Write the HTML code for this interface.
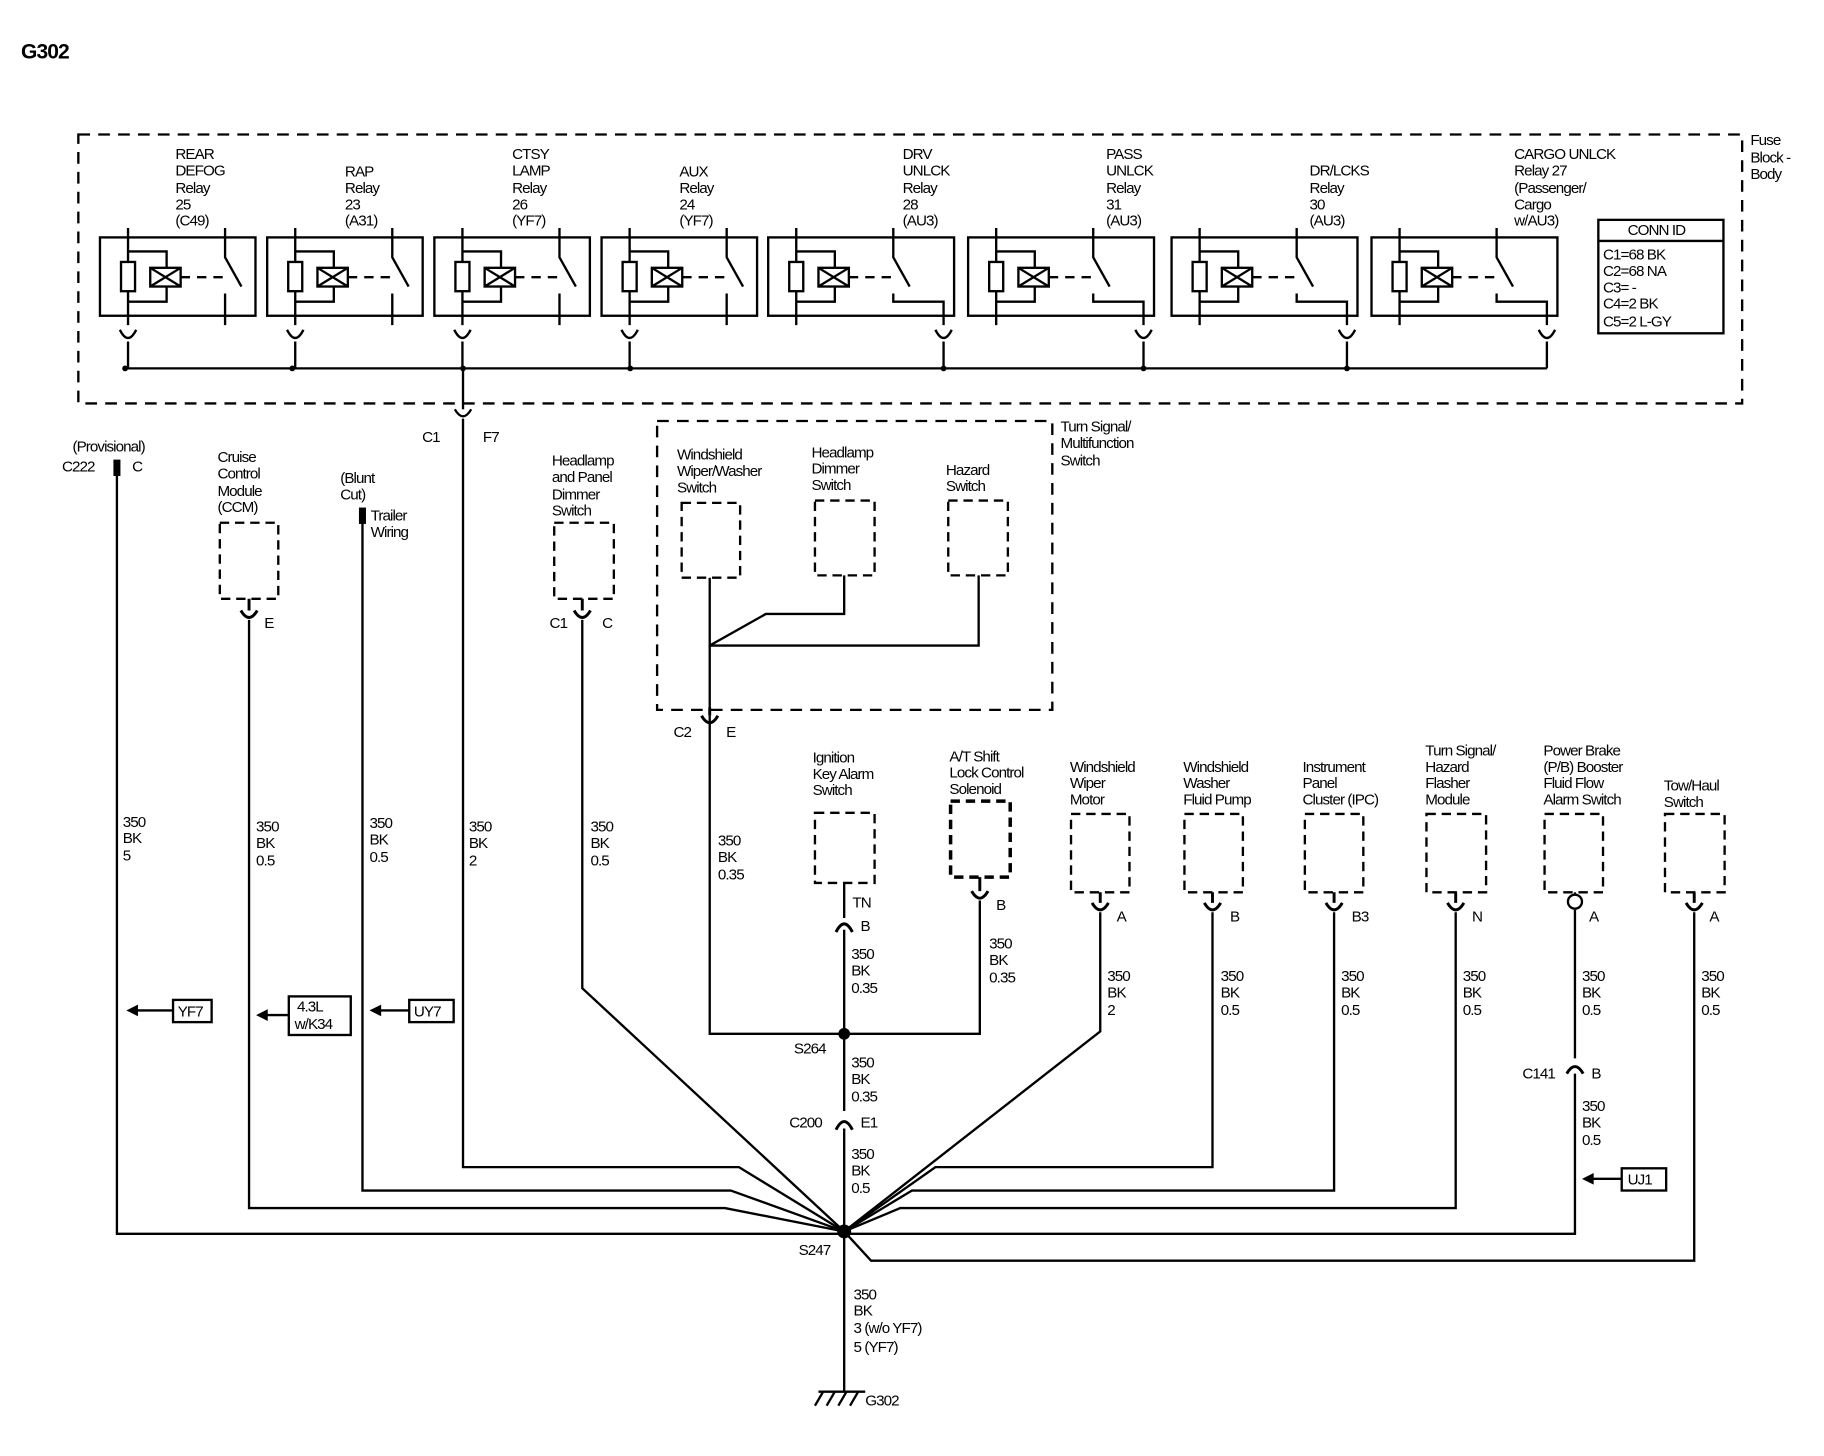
<!DOCTYPE html>
<html><head><meta charset="utf-8"><style>
html,body{margin:0;padding:0;background:#fff}
svg{display:block}
text{font-family:"Liberation Sans",Arial,sans-serif;font-size:13px;fill:#000;letter-spacing:-0.8px}
</style></head><body>
<svg width="1824" height="1456" viewBox="0 0 1560 1245" preserveAspectRatio="none" xmlns="http://www.w3.org/2000/svg">
<defs>
<g id="ra" fill="none" stroke="#000" stroke-width="2">
<rect x="0" y="203" width="133" height="67"/>
<path d="M24 195 V278 M24 215 H57 V258 H24"/>
<rect x="18" y="224" width="12" height="25" fill="#fff"/>
<rect x="43" y="229" width="26" height="16" fill="#fff"/><path d="M43 229 L69 245 M43 245 L69 229"/>
<path d="M69 237 H105" stroke-dasharray="8,6"/>
<path d="M107 195 V220 L121 245 M107 251 V278"/>
<path d="M17 282 Q24 296 31 282 M24 292 V315"/>
</g>
<g id="rb" fill="none" stroke="#000" stroke-width="2">
<rect x="0" y="203" width="159" height="67"/>
<path d="M24 195 V278 M24 215 H57 V258 H24"/>
<rect x="18" y="224" width="12" height="25" fill="#fff"/>
<rect x="43" y="229" width="26" height="16" fill="#fff"/><path d="M43 229 L69 245 M43 245 L69 229"/>
<path d="M69 237 H105" stroke-dasharray="8,6"/>
<path d="M107 195 V220 L121 245 M107 251 V258 H150 V278"/>
<path d="M143 282 Q150 296 157 282 M150 292 V315"/>
</g>
</defs>
<use href="#ra" x="85.5"/><use href="#ra" x="228.5"/><use href="#ra" x="371.5"/><use href="#ra" x="514.5"/>
<use href="#rb" x="657"/><use href="#rb" x="828"/><use href="#rb" x="1002"/><use href="#rb" x="1173"/>
<g fill="none" stroke="#000" stroke-width="2">
<rect x="67" y="115" width="1423" height="230" stroke-dasharray="10,7"/>
<rect x="562" y="360" width="338" height="247" stroke-dasharray="10,7"/>
</g>
<g fill="none" stroke="#000" stroke-width="2">
<path d="M109 315 H1323"/>
<path d="M396 315 V350"/>
<path d="M389 350 Q396 362 403 350" /><path d="M396 358 V998 H632 L722 1053"/>
<path d="M100 400 V1055 H722"/>
<path d="M213 530 V1033 H620 L722 1053"/>
<path d="M310 440 V1018 H625 L722 1053"/>
<path d="M498 530 V845 L722 1053"/>
<path d="M607 494 V552 L655 525 H722 V492"/>
<path d="M607 552 H837 V492"/>
<path d="M607 552 V605"/>
<path d="M607 612 V884 H838 V770"/>
<path d="M722 755 V785"/>
<path d="M722 795 V950"/>
<path d="M722 965 V1190"/>
<path d="M941 780 V882 L722 1053"/>
<path d="M1037 780 V998 H800 L722 1053"/>
<path d="M1141 780 V1018 H780 L722 1053"/>
<path d="M1245 780 V1033 H770 L722 1053"/>
<path d="M1347 778 V905"/><path d="M1347 918 V1055 H722"/>
<path d="M1449 780 V1078 H745 L722 1053"/>
<path d="M700 1190 H740 M704 1190 L697 1202 M714 1190 L707 1202 M724 1190 L717 1202 M734 1190 L727 1202"/>
<g stroke-dasharray="8,5">
<rect x="188" y="447" width="50" height="65"/>
<rect x="474" y="447" width="51" height="65"/>
<rect x="583" y="430" width="50" height="64"/>
<rect x="697" y="428" width="51" height="64"/>
<rect x="811" y="428" width="51" height="64"/>
<rect x="697" y="695" width="51" height="60"/>
<rect x="813" y="685" width="51" height="65" stroke-width="3"/>
<rect x="916" y="696" width="50" height="67"/>
<rect x="1013" y="696" width="50" height="67"/>
<rect x="1116" y="696" width="50" height="67"/>
<rect x="1220" y="696" width="51" height="67"/>
<rect x="1321" y="696" width="50" height="67"/>
<rect x="1424" y="696" width="51" height="67"/>
</g>
<g stroke-width="2.5">
<path d="M213 512 V522 M206 522 Q213 534 220 522"/>
<path d="M498 512 V522 M491 522 Q498 534 505 522"/>
<path d="M607 605 V612 M600 612 Q607 624 614 612"/>
<path d="M838 750 V762 M831 762 Q838 774 845 762"/>
<path d="M941 763 V772 M934 772 Q941 784 948 772"/>
<path d="M1037 763 V772 M1030 772 Q1037 784 1044 772"/>
<path d="M1141 763 V772 M1134 772 Q1141 784 1148 772"/>
<path d="M1245 763 V772 M1238 772 Q1245 784 1252 772"/>
<path d="M1449 763 V772 M1442 772 Q1449 784 1456 772"/>
<path d="M715 797 Q722 783 729 797"/>
<path d="M715 966 Q722 952 729 966"/>
<path d="M1340 918 Q1347 906 1354 918"/>
</g>
<path d="M1347 763 V764"/><circle cx="1347" cy="771" r="6"/>
<path d="M148 864 H112"/><rect x="148" y="855" width="33" height="19"/>
<path d="M247 868 H225"/><rect x="247" y="852" width="53" height="33"/>
<path d="M350 864 H320"/><rect x="350" y="855" width="38" height="19"/>
<path d="M1387 1008 H1357"/><rect x="1387" y="999" width="38" height="19"/>
<rect x="1367" y="188" width="107" height="97"/><path d="M1367 206 H1474"/>
</g>
<g fill="#000">
<path d="M108 864 L118 859 L118 869Z"/><path d="M219 868 L229 863 L229 873Z"/><path d="M316 864 L326 859 L326 869Z"/><path d="M1353 1008 L1363 1003 L1363 1013Z"/>
<rect x="97" y="393" width="6" height="14"/><rect x="307" y="434" width="6" height="14"/>
<circle cx="722" cy="884" r="5"/><circle cx="722" cy="1053" r="6"/>
<circle cx="107" cy="315" r="2.5"/><circle cx="250" cy="315" r="2.5"/><circle cx="396" cy="315" r="2.5"/><circle cx="539" cy="315" r="2.5"/><circle cx="807" cy="315" r="2.5"/><circle cx="978" cy="315" r="2.5"/><circle cx="1152" cy="315" r="2.5"/>
</g>
<text x="18" y="50" style="font-size:18px;font-weight:bold">G302</text>
<g>
<text x="150" y="136">REAR</text><text x="150" y="150">DEFOG</text><text x="150" y="165">Relay</text><text x="150" y="179">25</text><text x="150" y="193">(C49)</text>
<text x="295" y="151">RAP</text><text x="295" y="165">Relay</text><text x="295" y="179">23</text><text x="295" y="193">(A31)</text>
<text x="438" y="136">CTSY</text><text x="438" y="150">LAMP</text><text x="438" y="165">Relay</text><text x="438" y="179">26</text><text x="438" y="193">(YF7)</text>
<text x="581" y="151">AUX</text><text x="581" y="165">Relay</text><text x="581" y="179">24</text><text x="581" y="193">(YF7)</text>
<text x="772" y="136">DRV</text><text x="772" y="150">UNLCK</text><text x="772" y="165">Relay</text><text x="772" y="179">28</text><text x="772" y="193">(AU3)</text>
<text x="946" y="136">PASS</text><text x="946" y="150">UNLCK</text><text x="946" y="165">Relay</text><text x="946" y="179">31</text><text x="946" y="193">(AU3)</text>
<text x="1120" y="150">DR/LCKS</text><text x="1120" y="165">Relay</text><text x="1120" y="179">30</text><text x="1120" y="193">(AU3)</text>
<text x="1295" y="136">CARGO UNLCK</text><text x="1295" y="150">Relay 27</text><text x="1295" y="165">(Passenger/</text><text x="1295" y="179">Cargo</text><text x="1295" y="193">w/AU3)</text>
<text x="1497" y="124">Fuse</text><text x="1497" y="139">Block -</text><text x="1497" y="153">Body</text>
<text x="1392" y="201">CONN ID</text>
<text x="1371" y="222">C1=68 BK</text><text x="1371" y="236">C2=68 NA</text><text x="1371" y="250">C3= -</text><text x="1371" y="264">C4=2 BK</text><text x="1371" y="279">C5=2 L-GY</text>
<text x="361" y="378">C1</text><text x="413" y="378">F7</text>
<text x="62" y="386">(Provisional)</text><text x="53" y="403">C222</text><text x="113" y="403">C</text>
<text x="186" y="395">Cruise</text><text x="186" y="409">Control</text><text x="186" y="424">Module</text><text x="186" y="438">(CCM)</text>
<text x="291" y="413">(Blunt</text><text x="291" y="427">Cut)</text><text x="317" y="445">Trailer</text><text x="317" y="459">Wiring</text>
<text x="472" y="398">Headlamp</text><text x="472" y="412">and Panel</text><text x="472" y="427">Dimmer</text><text x="472" y="441">Switch</text>
<text x="907" y="369">Turn Signal/</text><text x="907" y="383">Multifunction</text><text x="907" y="398">Switch</text>
<text x="579" y="393">Windshield</text><text x="579" y="407">Wiper/Washer</text><text x="579" y="421">Switch</text>
<text x="694" y="391">Headlamp</text><text x="694" y="405">Dimmer</text><text x="694" y="419">Switch</text>
<text x="809" y="406">Hazard</text><text x="809" y="420">Switch</text>
<text x="226" y="537">E</text><text x="470" y="537">C1</text><text x="515" y="537">C</text>
<text x="576" y="630">C2</text><text x="621" y="630">E</text>
<text x="695" y="652">Ignition</text><text x="695" y="666">Key Alarm</text><text x="695" y="680">Switch</text>
<text x="812" y="651">A/T Shift</text><text x="812" y="665">Lock Control</text><text x="812" y="679">Solenoid</text>
<text x="915" y="660">Windshield</text><text x="915" y="674">Wiper</text><text x="915" y="688">Motor</text>
<text x="1012" y="660">Windshield</text><text x="1012" y="674">Washer</text><text x="1012" y="688">Fluid Pump</text>
<text x="1114" y="660">Instrument</text><text x="1114" y="674">Panel</text><text x="1114" y="688">Cluster (IPC)</text>
<text x="1219" y="646">Turn Signal/</text><text x="1219" y="660">Hazard</text><text x="1219" y="674">Flasher</text><text x="1219" y="688">Module</text>
<text x="1320" y="646">Power Brake</text><text x="1320" y="660">(P/B) Booster</text><text x="1320" y="674">Fluid Flow</text><text x="1320" y="688">Alarm Switch</text>
<text x="1423" y="676">Tow/Haul</text><text x="1423" y="690">Switch</text>
<text x="729" y="776">TN</text><text x="736" y="796">B</text><text x="852" y="778">B</text>
<text x="955" y="788">A</text><text x="1052" y="788">B</text><text x="1156" y="788">B3</text><text x="1259" y="788">N</text><text x="1359" y="788">A</text><text x="1462" y="788">A</text>
<text x="105" y="707">350</text><text x="105" y="721">BK</text><text x="105" y="736">5</text>
<text x="219" y="711">350</text><text x="219" y="725">BK</text><text x="219" y="740">0.5</text>
<text x="316" y="708">350</text><text x="316" y="722">BK</text><text x="316" y="737">0.5</text>
<text x="401" y="711">350</text><text x="401" y="725">BK</text><text x="401" y="740">2</text>
<text x="505" y="711">350</text><text x="505" y="725">BK</text><text x="505" y="740">0.5</text>
<text x="614" y="723">350</text><text x="614" y="737">BK</text><text x="614" y="752">0.35</text>
<text x="728" y="820">350</text><text x="728" y="834">BK</text><text x="728" y="849">0.35</text>
<text x="846" y="811">350</text><text x="846" y="825">BK</text><text x="846" y="840">0.35</text>
<text x="947" y="839">350</text><text x="947" y="853">BK</text><text x="947" y="868">2</text>
<text x="1044" y="839">350</text><text x="1044" y="853">BK</text><text x="1044" y="868">0.5</text>
<text x="1147" y="839">350</text><text x="1147" y="853">BK</text><text x="1147" y="868">0.5</text>
<text x="1251" y="839">350</text><text x="1251" y="853">BK</text><text x="1251" y="868">0.5</text>
<text x="1353" y="839">350</text><text x="1353" y="853">BK</text><text x="1353" y="868">0.5</text>
<text x="1455" y="839">350</text><text x="1455" y="853">BK</text><text x="1455" y="868">0.5</text>
<text x="152" y="869">YF7</text><text x="254" y="865">4.3L</text><text x="252" y="880">w/K34</text><text x="354" y="869">UY7</text><text x="1392" y="1013">UJ1</text>
<text x="679" y="901">S264</text>
<text x="728" y="913">350</text><text x="728" y="927">BK</text><text x="728" y="942">0.35</text>
<text x="675" y="964">C200</text><text x="736" y="964">E1</text>
<text x="728" y="991">350</text><text x="728" y="1005">BK</text><text x="728" y="1020">0.5</text>
<text x="1302" y="922">C141</text><text x="1361" y="922">B</text>
<text x="1353" y="950">350</text><text x="1353" y="964">BK</text><text x="1353" y="979">0.5</text>
<text x="683" y="1073">S247</text>
<text x="730" y="1111">350</text><text x="730" y="1125">BK</text><text x="730" y="1140">3 (w/o YF7)</text><text x="730" y="1156">5 (YF7)</text>
<text x="740" y="1202">G302</text>
</g>
</svg>
</body></html>
